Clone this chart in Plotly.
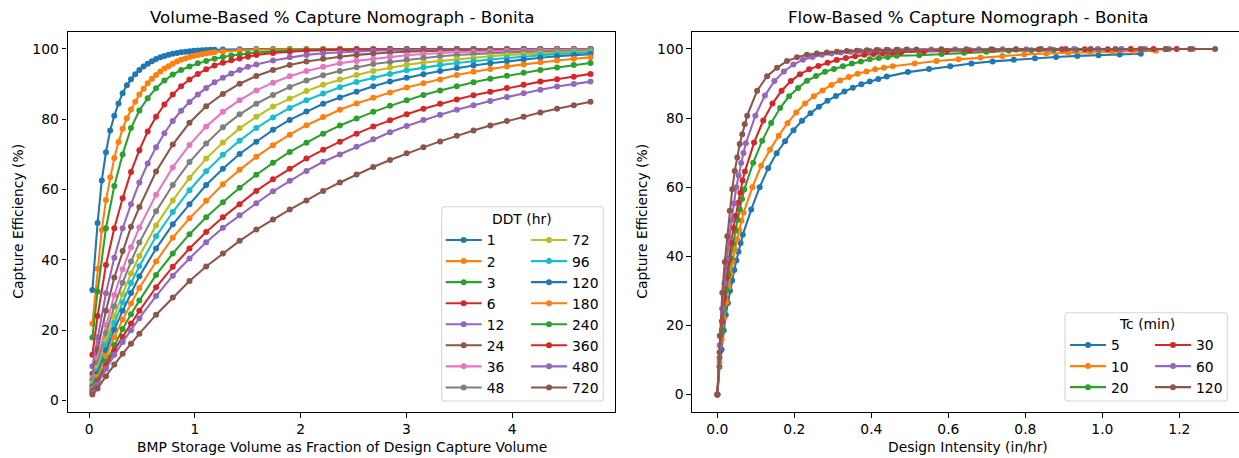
import plotly.graph_objects as go

# ---------------- Volume-based nomograph data ----------------
# Storage volume expressed as a fraction of the design capture volume
x_dense = [0.03, 0.079, 0.119, 0.158, 0.198, 0.237, 0.277, 0.316, 0.356, 0.395,
           0.435, 0.474, 0.514, 0.553, 0.593, 0.632, 0.672, 0.711, 0.751, 0.79,
           0.83, 0.869, 0.909, 0.948, 0.988, 1.027, 1.067, 1.106, 1.146, 1.185,
           1.264, 1.422, 1.58, 1.738, 1.896, 2.054, 2.212, 2.37, 2.528, 2.686,
           2.844, 3.002, 3.16, 3.318, 3.476, 3.634, 3.792, 3.95, 4.108, 4.266,
           4.424, 4.582, 4.74]
x_mid = [0.03, 0.079, 0.158, 0.237, 0.316, 0.395, 0.474, 0.553, 0.632, 0.711,
         0.79, 0.869, 0.948, 1.027, 1.106, 1.185, 1.264, 1.343, 1.422, 1.501,
         1.58, 1.738, 1.896, 2.054, 2.212, 2.37, 2.528, 2.686, 2.844, 3.002,
         3.16, 3.318, 3.476, 3.634, 3.792, 3.95, 4.108, 4.266, 4.424, 4.582, 4.74]
x_coarse = [0.03, 0.079, 0.158, 0.237, 0.316, 0.395, 0.474, 0.632, 0.79, 0.948,
            1.106, 1.264, 1.422, 1.58, 1.738, 1.896, 2.054, 2.212, 2.37, 2.528,
            2.686, 2.844, 3.002, 3.16, 3.318, 3.476, 3.634, 3.792, 3.95, 4.108,
            4.266, 4.424, 4.582, 4.74]

ddt_1 = [31.4, 50.5, 62.6, 70.6, 76.8, 81.0, 84.5, 87.4, 89.7, 91.4, 92.8, 94.0,
         95.0, 95.8, 96.5, 97.1, 97.6, 98.0, 98.35, 98.6, 98.85, 99.05, 99.2,
         99.35, 99.45, 99.55, 99.62, 99.7, 99.75, 99.8, 99.86, 99.93, 99.96,
         99.98, 99.99, 99.99, 100, 100, 100, 100, 100, 100, 100, 100, 100, 100,
         100, 100, 100, 100, 100, 100, 100]
ddt_2 = [21.8, 37.5, 48.5, 57.0, 63.5, 69.0, 73.5, 77.3, 80.3, 82.8, 85.0, 87.0,
         88.7, 90.2, 91.5, 92.6, 93.6, 94.4, 95.1, 95.8, 96.4, 96.9, 97.3, 97.7,
         98.0, 98.3, 98.5, 98.7, 98.9, 99.05, 99.3, 99.6, 99.75, 99.85, 99.9,
         99.93, 99.95, 99.97, 99.98, 99.98, 99.99, 99.99, 99.99, 100, 100, 100,
         100, 100, 100, 100, 100, 100, 100]
ddt_3 = [17.9, 31.0, 49.0, 61.0, 70.0, 77.5, 82.5, 86.0, 88.8, 91.0, 92.7, 94.0,
         95.0, 95.9, 96.6, 97.2, 97.7, 98.1, 98.4, 98.7, 98.95, 99.3, 99.55,
         99.7, 99.8, 99.87, 99.91, 99.94, 99.96, 99.97, 99.98, 99.98, 99.99,
         99.99, 100, 100, 100, 100, 100, 100, 100]
ddt_6 = [13.0, 24.0, 38.5, 49.0, 57.5, 65.0, 71.2, 76.5, 80.7, 84.2, 87.0, 89.4,
         91.3, 92.9, 94.2, 95.3, 96.1, 96.8, 97.3, 97.8, 98.25, 98.85, 99.2,
         99.5, 99.63, 99.75, 99.82, 99.87, 99.9, 99.93, 99.95, 99.96, 99.97,
         99.97, 99.98, 99.98, 99.98, 99.99, 99.99, 99.99, 99.99]
ddt_12 = [9.7, 18.0, 30.5, 40.6, 49.0, 55.8, 62.0, 67.4, 72.0, 76.0, 79.5, 82.4,
          84.9, 87.0, 88.9, 90.5, 91.8, 93.0, 94.0, 94.9, 95.6, 96.7, 97.6,
          98.3, 98.75, 99.05, 99.3, 99.5, 99.62, 99.7, 99.77, 99.82, 99.86,
          99.89, 99.91, 99.93, 99.94, 99.95, 99.96, 99.97, 99.97]
ddt_24 = [7.6, 14.5, 25.5, 35.0, 42.5, 49.4, 55.0, 65.1, 72.8, 79.0, 83.7, 87.2,
          90.1, 92.3, 94.0, 95.4, 96.4, 97.2, 97.8, 98.3, 98.7, 99.0, 99.2, 99.4,
          99.55, 99.62, 99.7, 99.76, 99.8, 99.84, 99.87, 99.9, 99.92, 99.94]
ddt_36 = [6.4, 12.0, 21.5, 30.0, 37.3, 43.6, 49.2, 58.5, 66.3, 72.7, 77.9, 82.1,
          85.4, 88.2, 90.4, 92.2, 93.7, 94.9, 95.9, 96.6, 97.2, 97.8, 98.2,
          98.55, 98.85, 99.05, 99.2, 99.35, 99.45, 99.55, 99.65, 99.7, 99.75, 99.8]
ddt_48 = [5.7, 10.6, 19.2, 26.8, 33.5, 39.5, 44.9, 53.8, 61.3, 67.8, 73.1, 77.7,
          81.4, 84.4, 86.9, 89.2, 91.0, 92.5, 93.7, 94.8, 95.7, 96.3, 96.9, 97.4,
          97.9, 98.25, 98.55, 98.8, 99.0, 99.15, 99.3, 99.4, 99.5, 99.6]
ddt_72 = [4.8, 9.4, 17.1, 24.0, 30.3, 36.1, 41.1, 49.8, 56.9, 63.3, 68.8, 73.4,
          77.4, 80.7, 83.6, 85.9, 88.0, 89.8, 91.3, 92.6, 93.7, 94.7, 95.5, 96.1,
          96.6, 97.1, 97.5, 97.9, 98.3, 98.5, 98.75, 98.9, 99.1, 99.3]
ddt_96 = [4.2, 8.5, 15.7, 22.0, 27.9, 33.4, 38.2, 46.7, 53.6, 59.8, 65.2, 69.9,
          73.9, 77.5, 80.5, 83.2, 85.4, 87.3, 89.1, 90.6, 91.8, 92.9, 93.9, 94.7,
          95.4, 96.0, 96.6, 97.0, 97.4, 97.8, 98.3, 98.55, 98.8, 99.0]
ddt_120 = [3.9, 7.7, 14.3, 20.1, 25.5, 30.6, 35.3, 43.2, 50.1, 55.8, 61.3, 65.9,
           70.1, 73.6, 77.0, 79.8, 82.2, 84.4, 86.2, 87.8, 89.4, 90.7, 91.8, 92.8,
           93.7, 94.6, 95.3, 95.9, 96.5, 97.0, 97.5, 97.9, 98.2, 98.5]
ddt_180 = [3.3, 6.7, 12.7, 18.0, 23.0, 27.6, 32.0, 39.5, 46.3, 51.8, 56.8, 61.5,
           65.6, 69.3, 72.6, 75.6, 78.3, 80.6, 82.7, 84.5, 86.1, 87.6, 89.0, 90.2,
           91.3, 92.6, 93.5, 94.3, 95.0, 95.6, 96.2, 96.7, 97.2, 97.6]
ddt_240 = [2.8, 5.8, 11.0, 15.8, 20.3, 24.5, 28.4, 35.7, 41.8, 47.3, 52.1, 56.4,
           60.5, 64.2, 67.6, 70.7, 73.3, 75.9, 78.2, 80.2, 82.1, 83.8, 85.4, 86.9,
           88.2, 89.4, 90.5, 91.5, 92.4, 93.2, 94.0, 94.7, 95.4, 96.0]
ddt_360 = [2.5, 5.1, 9.8, 14.2, 18.1, 21.9, 25.5, 32.2, 38.0, 43.2, 47.9, 52.1,
           55.8, 59.6, 62.9, 65.9, 68.8, 71.3, 73.6, 75.9, 77.9, 79.7, 81.4, 83.0,
           84.4, 85.6, 86.8, 87.8, 88.9, 89.8, 90.7, 91.4, 92.1, 92.9]
ddt_480 = [2.2, 4.6, 9.0, 13.0, 16.6, 20.0, 23.4, 29.7, 35.5, 40.4, 45.0, 49.1,
           52.7, 56.1, 59.5, 62.5, 65.3, 67.9, 70.0, 72.2, 74.3, 76.3, 78.1, 79.8,
           81.3, 82.7, 84.0, 85.2, 86.3, 87.4, 88.4, 89.3, 90.0, 90.7]
ddt_720 = [1.7, 3.4, 6.9, 10.2, 13.3, 16.1, 19.0, 24.4, 29.3, 34.0, 38.1, 41.8,
           45.4, 48.6, 51.5, 54.3, 56.9, 59.6, 62.0, 64.3, 66.4, 68.4, 70.3, 72.0,
           73.7, 75.3, 76.8, 78.2, 79.5, 80.7, 81.9, 83.0, 84.0, 85.0]

ddt_labels = ["1", "2", "3", "6", "12", "24", "36", "48",
              "72", "96", "120", "180", "240", "360", "480", "720"]
ddt_x = [x_dense, x_dense, x_mid, x_mid, x_mid, x_coarse, x_coarse, x_coarse,
         x_coarse, x_coarse, x_coarse, x_coarse, x_coarse, x_coarse, x_coarse, x_coarse]
ddt_y = [ddt_1, ddt_2, ddt_3, ddt_6, ddt_12, ddt_24, ddt_36, ddt_48,
         ddt_72, ddt_96, ddt_120, ddt_180, ddt_240, ddt_360, ddt_480, ddt_720]

# ---------------- Flow-based nomograph data ----------------
tc5_x = [0, 0.0055, 0.011, 0.0165, 0.022, 0.0275, 0.033, 0.0385, 0.044, 0.0495,
         0.055, 0.0605, 0.066, 0.088, 0.11, 0.132, 0.154, 0.176, 0.198, 0.22,
         0.242, 0.264, 0.286, 0.308, 0.33, 0.352, 0.374, 0.396, 0.418, 0.44,
         0.495, 0.55, 0.605, 0.66, 0.715, 0.77, 0.825, 0.88, 0.935, 0.99, 1.045, 1.1]
tc5_y = [0, 8.0, 13.0, 18.5, 23.0, 26.5, 30.0, 33.0, 36.0, 38.8, 41.3, 43.8, 46.2,
         53.5, 60.0, 65.5, 69.8, 73.3, 76.5, 79.2, 81.4, 83.3, 85.0, 86.4, 87.7,
         88.8, 89.8, 90.6, 91.3, 92.0, 93.3, 94.2, 95.0, 95.8, 96.4, 96.9, 97.3,
         97.7, 98.0, 98.2, 98.4, 98.6]
tc10_x = [0, 0.0057, 0.0114, 0.0171, 0.0228, 0.0285, 0.0342, 0.0399, 0.0456,
          0.0513, 0.057, 0.0626, 0.0683, 0.0911, 0.1139, 0.1367, 0.1595, 0.1822,
          0.205, 0.2278, 0.2506, 0.2734, 0.2962, 0.3189, 0.3417, 0.3645, 0.3873,
          0.4101, 0.4328, 0.4556, 0.5126, 0.5695, 0.6265, 0.6834, 0.7404, 0.7973,
          0.8543, 0.9112, 0.9682, 1.025, 1.082, 1.139]
tc10_y = [0, 9.4, 15.9, 22.0, 26.7, 31.0, 34.8, 38.4, 41.9, 44.9, 47.6, 50.3, 52.6,
          60.0, 66.2, 70.8, 74.9, 78.5, 81.6, 84.2, 86.3, 88.0, 89.6, 90.9, 91.9,
          92.8, 93.5, 94.1, 94.6, 95.0, 95.8, 96.5, 97.0, 97.5, 98.0, 98.4, 98.7,
          98.9, 99.1, 99.25, 99.35, 99.45]
tc20_x = [0, 0.0058, 0.0117, 0.0175, 0.0233, 0.0291, 0.035, 0.0408, 0.0466,
          0.0524, 0.0583, 0.0641, 0.0699, 0.0932, 0.1165, 0.1398, 0.1631, 0.1864,
          0.2097, 0.233, 0.2563, 0.2796, 0.3029, 0.3262, 0.3495, 0.3728, 0.3961,
          0.4194, 0.4427, 0.466, 0.5243, 0.5825, 0.6408, 0.699, 0.7573, 0.8155,
          0.8738, 0.932, 0.9903, 1.049, 1.107, 1.165]
tc20_y = [0, 10.6, 18.6, 24.9, 30.2, 34.6, 39.4, 43.6, 47.3, 50.6, 53.6, 56.6,
          59.3, 67.1, 73.4, 78.6, 82.9, 86.3, 88.7, 90.8, 92.2, 93.4, 94.2, 95.0,
          95.8, 96.4, 97.0, 97.4, 97.7, 98.05, 98.2, 98.55, 98.9, 99.2, 99.45,
          99.6, 99.72, 99.8, 99.86, 99.9, 99.93, 99.95]
tc30_x = [0, 0.006, 0.0119, 0.0179, 0.0239, 0.0298, 0.0358, 0.0418, 0.0477,
          0.0537, 0.0597, 0.0656, 0.0716, 0.0954, 0.1193, 0.1432, 0.167, 0.1909,
          0.2147, 0.2386, 0.2625, 0.2863, 0.3102, 0.334, 0.3579, 0.3818, 0.4056,
          0.4295, 0.4534, 0.4772, 0.5369, 0.5965, 0.6562, 0.7158, 0.7755, 0.8351,
          0.8948, 0.9544, 1.014, 1.074, 1.133, 1.193]
tc30_y = [0, 12.2, 21.2, 28.0, 33.8, 38.9, 43.9, 48.2, 51.7, 55.4, 58.4, 61.9,
          64.5, 72.9, 79.3, 84.2, 87.9, 90.7, 92.7, 94.1, 95.1, 96.0, 96.8, 97.4,
          97.9, 98.3, 98.55, 98.75, 98.9, 99.05, 99.3, 99.5, 99.65, 99.75, 99.82,
          99.87, 99.9, 99.93, 99.95, 99.97, 99.98, 99.99]
tc60_x = [0, 0.0062, 0.0124, 0.0185, 0.0247, 0.0309, 0.0371, 0.0432, 0.0494,
          0.0556, 0.0618, 0.0679, 0.0741, 0.0988, 0.1235, 0.1482, 0.1729, 0.1976,
          0.2223, 0.247, 0.2717, 0.2964, 0.3211, 0.3458, 0.3705, 0.3952, 0.4199,
          0.4446, 0.4693, 0.494, 0.5558, 0.6175, 0.6793, 0.741, 0.8028, 0.8645,
          0.9263, 0.988, 1.0498, 1.1115, 1.1733, 1.235]
tc60_y = [0, 14.2, 24.8, 32.2, 39.2, 45.4, 50.5, 55.3, 60.0, 63.4, 67.0, 69.9,
          72.7, 80.7, 86.5, 90.7, 93.5, 95.5, 96.9, 97.7, 98.3, 98.7, 99.0, 99.2,
          99.4, 99.5, 99.6, 99.7, 99.75, 99.8, 99.85, 99.9, 99.92, 99.94, 99.95,
          99.96, 99.97, 99.98, 99.98, 99.99, 99.99, 100]
tc120_x = [0, 0.0065, 0.0129, 0.0194, 0.0259, 0.0323, 0.0388, 0.0453, 0.0517,
           0.0582, 0.0647, 0.0711, 0.0776, 0.1034, 0.1293, 0.1552, 0.181, 0.2069,
           0.2327, 0.2586, 0.2845, 0.3103, 0.3362, 0.362, 0.3879, 0.4138, 0.4396,
           0.4655, 0.4913, 0.5172, 0.5819, 0.6465, 0.7112, 0.7758, 0.8405, 0.9051,
           0.9698, 1.034, 1.099, 1.164, 1.228, 1.293]
tc120_y = [0, 17.0, 29.4, 38.3, 45.8, 53.2, 59.4, 64.7, 68.6, 72.5, 75.3, 78.2,
           80.7, 87.9, 92.1, 94.6, 96.5, 97.6, 98.3, 98.7, 99.0, 99.2, 99.4, 99.5,
           99.6, 99.7, 99.75, 99.8, 99.85, 99.87, 99.9, 99.92, 99.94, 99.95, 99.96,
           99.97, 99.98, 99.98, 99.99, 99.99, 100, 100]

tc_labels = ["5", "10", "20", "30", "60", "120"]
tc_x = [tc5_x, tc10_x, tc20_x, tc30_x, tc60_x, tc120_x]
tc_y = [tc5_y, tc10_y, tc20_y, tc30_y, tc60_y, tc120_y]

TAB10 = ["#1f77b4", "#ff7f0e", "#2ca02c", "#d62728", "#9467bd",
         "#8c564b", "#e377c2", "#7f7f7f", "#bcbd22", "#17becf"]

W, H = 1239, 458
FONT = "DejaVu Sans"
FS = 13.89          # 10 pt at 100 dpi
LW = 2.08           # 1.5 pt line
AX_LW = 1.11        # 0.8 pt spine


def fx(p):
    return p / W


def fy(p):
    return 1 - p / H


fig = go.Figure()

for i, (lab, xs, ys) in enumerate(zip(ddt_labels, ddt_x, ddt_y)):
    c = TAB10[i % 10]
    fig.add_trace(go.Scatter(
        x=xs, y=ys, mode="lines+markers", name=lab,
        line=dict(color=c, width=LW), marker=dict(color=c, size=6),
        xaxis="x", yaxis="y",
        legend="legend" if i < 8 else "legend2", hoverinfo="skip"))

for i, (lab, xs, ys) in enumerate(zip(tc_labels, tc_x, tc_y)):
    c = TAB10[i % 10]
    fig.add_trace(go.Scatter(
        x=xs, y=ys, mode="lines+markers", name=lab,
        line=dict(color=c, width=LW), marker=dict(color=c, size=6),
        xaxis="x2", yaxis="y2",
        legend="legend3" if i < 3 else "legend4", hoverinfo="skip"))

axis_common = dict(showgrid=False, zeroline=False, showline=True, linecolor="black",
                   linewidth=AX_LW, ticks="outside", ticklen=4.86, tickwidth=AX_LW,
                   tickcolor="black", tickfont=dict(family=FONT, size=FS, color="black"))

ydom = [fy(411.7), fy(31.7)]
fig.update_layout(
    width=W, height=H, margin=dict(l=0, r=0, t=0, b=0),
    paper_bgcolor="white", plot_bgcolor="white",
    font=dict(family=FONT, size=FS, color="black"),
    xaxis=dict(domain=[fx(67.5), fx(615.4)], range=[-0.2055, 4.9755],
               tickvals=[0, 1, 2, 3, 4], mirror=True, anchor="y", **axis_common),
    yaxis=dict(domain=ydom, range=[-3.2, 104.9], tickvals=[0, 20, 40, 60, 80, 100],
               mirror=True, anchor="x", **axis_common),
    xaxis2=dict(domain=[fx(692.3), 1.0], range=[-0.065, 1.355],
                tickvals=[0, 0.2, 0.4, 0.6, 0.8, 1.0, 1.2], tickformat=".1f",
                mirror=True, anchor="y2", **axis_common),
    yaxis2=dict(domain=ydom, range=[-5, 105], tickvals=[0, 20, 40, 60, 80, 100],
                mirror=False, anchor="x2", **axis_common),
    showlegend=True,
)

leg = dict(bgcolor="rgba(0,0,0,0)", borderwidth=0, itemwidth=36,
           xanchor="left", yanchor="top",
           font=dict(family=FONT, size=FS, color="black"))
fig.update_layout(
    legend=dict(x=fx(440.7), y=fy(224.5), **leg),
    legend2=dict(x=fx(526.0), y=fy(224.5), **leg),
    legend3=dict(x=fx(1065.0), y=fy(329.5), **leg),
    legend4=dict(x=fx(1150.0), y=fy(329.5), **leg),
)


def rounded_box(x0, y0, x1, y1, r=3.0):
    """Rounded rectangle path in paper coordinates from pixel corners."""
    pts = [
        f"M{fx(x0 + r)},{fy(y0)}", f"L{fx(x1 - r)},{fy(y0)}",
        f"Q{fx(x1)},{fy(y0)} {fx(x1)},{fy(y0 + r)}", f"L{fx(x1)},{fy(y1 - r)}",
        f"Q{fx(x1)},{fy(y1)} {fx(x1 - r)},{fy(y1)}", f"L{fx(x0 + r)},{fy(y1)}",
        f"Q{fx(x0)},{fy(y1)} {fx(x0)},{fy(y1 - r)}", f"L{fx(x0)},{fy(y0 + r)}",
        f"Q{fx(x0)},{fy(y0)} {fx(x0 + r)},{fy(y0)}", "Z"]
    return " ".join(pts)


shapes = [
    dict(type="path", xref="paper", yref="paper", layer="above",
         path=rounded_box(441.7, 206.7, 603.3, 401.0),
         fillcolor="rgba(255,255,255,0.8)", line=dict(color="#d6d6d6", width=AX_LW)),
    dict(type="path", xref="paper", yref="paper", layer="above",
         path=rounded_box(1065.0, 312.7, 1227.3, 401.0),
         fillcolor="rgba(255,255,255,0.8)", line=dict(color="#d6d6d6", width=AX_LW)),
]
fig.update_layout(shapes=shapes)


def text(x, y, s, size=FS, angle=0):
    return dict(x=fx(x), y=fy(y), xref="paper", yref="paper", text=s, showarrow=False,
                xanchor="center", yanchor="middle", textangle=angle,
                font=dict(family=FONT, size=size, color="black"))


fig.update_layout(annotations=[
    text(341.5, 17, "Volume-Based % Capture Nomograph - Bonita", size=16.67),
    text(967.5, 17, "Flow-Based % Capture Nomograph - Bonita", size=16.67),
    text(341.5, 447, "BMP Storage Volume as Fraction of Design Capture Volume"),
    text(967.5, 447, "Design Intensity (in/hr)"),
    text(18, 221.7, "Capture Efficiency (%)", angle=-90),
    text(642, 221.7, "Capture Efficiency (%)", angle=-90),
    text(522.3, 219.3, "DDT (hr)"),
    text(1146.7, 324.3, "Tc (min)"),
])

fig.write_html("out.html")
